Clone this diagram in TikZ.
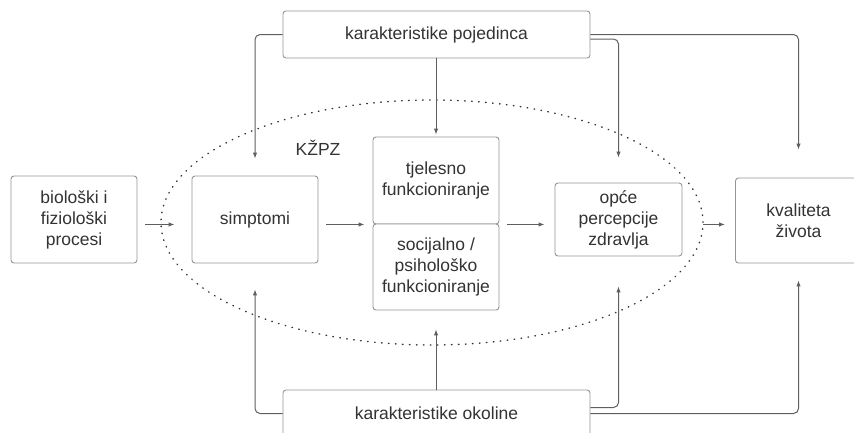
\documentclass[tikz,border=0pt]{standalone}
\usepackage{fontspec}
\setmainfont{Liberation Sans}
\usetikzlibrary{arrows.meta}
\definecolor{boxline}{RGB}{150,150,150}
\definecolor{arrline}{RGB}{95,95,95}
\definecolor{txt}{RGB}{51,51,51}

\begin{document}
\begin{tikzpicture}[x=1pt, y=-1pt,
    every node/.style={font=\fontsize{17.5}{21}\selectfont, text=txt},
    block/.style={draw=boxline, fill=white, line width=0.9pt, rounded corners=3pt, align=center, minimum width=126pt, inner sep=0pt},
    flow/.style={draw=arrline, line width=1pt, rounded corners=5pt, -{Latex[length=6pt,width=4.5pt]}},
    kzpz/.style={draw=black!80, line width=1.4pt, line cap=round, dash pattern=on 0.6pt off 6.4pt}
  ]
  \useasboundingbox (0,0) rectangle (854,432);
  \clip (0,0) rectangle (854,432);

  % dotted region
  \draw [kzpz] (432,222.5) ellipse [x radius=271pt, y radius=122.5pt];
  \node (kzpzlabel) at (318,148) {KŽPZ};

  % boxes
  \node [block, minimum height=87pt] (bio) at (74,219.5) {biološki i\\fiziološki\\procesi};
  \node [block, minimum height=87pt] (simp) at (255,219.5) {simptomi};
  \node [block, minimum height=87pt] (tjel) at (436,180.5) {tjelesno\\funkcioniranje};
  \node [block, minimum height=86pt] (soc) at (436,267) {socijalno /\\psihološko\\funkcioniranje};
  \node [block, minimum width=127pt, minimum height=73pt] (opce) at (618.5,219.5) {opće\\percepcije\\zdravlja};
  \node [block, minimum height=85pt] (kval) at (798.5,220.5) {kvaliteta\\života};
  \node [block, minimum width=307pt, minimum height=47pt] (pojed) at (436.5,34.5) {karakteristike pojedinca};
  \node [block, minimum width=307pt, minimum height=47pt] (okol) at (436.5,413.5) {karakteristike okoline};

  \coordinate (mid) at (tjel.south);

  % main flow
  \draw [flow, shorten <=8pt, shorten >=17pt] (bio.east |- mid) -- (simp.west |- mid);
  \draw [flow, shorten <=8pt, shorten >=8pt] (simp.east |- mid) -- (tjel.west |- mid);
  \draw [flow, shorten <=8pt, shorten >=10pt] (tjel.east |- mid) -- (opce.west |- mid);
  \draw [flow, shorten <=21pt, shorten >=10pt] (opce.east |- mid) -- (kval.west |- mid);

  % individual characteristics
  \draw [flow, shorten >=17pt] (pojed.west) -| (simp.north);
  \draw [flow, shorten >=2pt] (tjel.north |- pojed.south) -- (tjel.north);
  \draw [flow, shorten >=25pt] ([yshift=-4.5pt]pojed.east) -| (opce.north);
  \draw [flow, shorten >=28pt] (pojed.east) -| (kval.north);

  % environment characteristics
  \draw [flow, shorten >=26pt] (okol.west) -| (simp.south);
  \draw [flow, shorten >=19pt] (soc.south |- okol.north) -- (soc.south);
  \draw [flow, shorten >=30pt] ([yshift=6pt]okol.east) -| (opce.south);
  \draw [flow, shorten >=17pt] (okol.east) -| (kval.south);
\end{tikzpicture}
\end{document}
